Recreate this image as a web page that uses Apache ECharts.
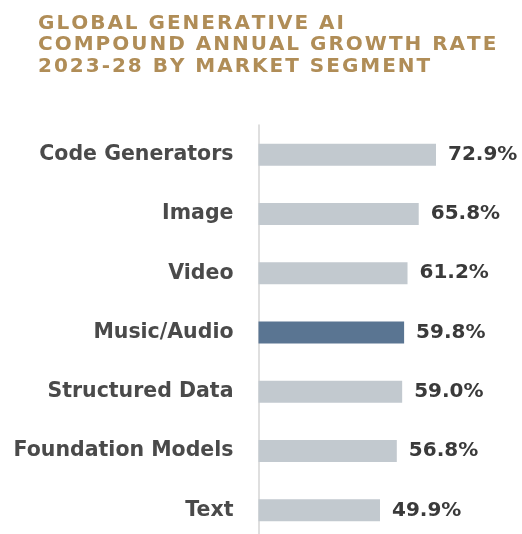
<!DOCTYPE html>
<html><head><meta charset="utf-8">
<script src="https://cdn.jsdelivr.net/npm/echarts@6/dist/echarts.min.js"></script>
<style>html,body{margin:0;padding:0;background:#fff}#c{width:522px;height:534px}</style>
</head><body><div id="c"></div>
<script>
const titleLines = ['GLOBAL GENERATIVE AI','COMPOUND ANNUAL GROWTH RATE','2023-28 BY MARKET SEGMENT'];
const categories = ['Code Generators','Image','Video','Music/Audio','Structured Data','Foundation Models','Text'];
const values = [72.9, 65.8, 61.2, 59.8, 59.0, 56.8, 49.9];
const highlight = 'Music/Audio';

const spaced = s => s.split('').join('\u200A');
const chart = echarts.init(document.getElementById('c'), null, {renderer:'canvas'});
const cats = categories.slice().reverse();
const vals = values.slice().reverse();
chart.setOption({
  animation:false,
  title:{
    text: titleLines.map(spaced).join('\n'),
    left:38, top:13, padding:0,
    textStyle:{fontFamily:'DejaVu Sans', fontWeight:'bold', fontSize:20, lineHeight:21.5, color:'#b08d57'}
  },
  grid:{left:258.5, right:20, top:125, height:415, containLabel:false, outerBoundsMode:'none'},
  xAxis:{type:'value', min:0, max:100, show:false},
  yAxis:{type:'category', data:cats,
    axisLine:{show:true, lineStyle:{color:'#d4d4d4', width:1.5}},
    axisTick:{show:false},
    axisLabel:{margin:25, fontFamily:'DejaVu Sans', fontWeight:'bold', fontSize:20.5, color:'#4a4a4a'}
  },
  series:[{
    type:'bar', barWidth:22,
    data: vals.map((v,i)=>({value:v, itemStyle:{color: cats[i]===highlight ? '#5a7592' : '#c2c9cf'}})),
    label:{show:true, position:'right', distance:12, formatter: p=>p.value.toFixed(1)+'%',
      fontFamily:'DejaVu Sans', fontWeight:'bold', fontSize:20, color:'#3a3a3a'}
  }]
});
</script></body></html>
